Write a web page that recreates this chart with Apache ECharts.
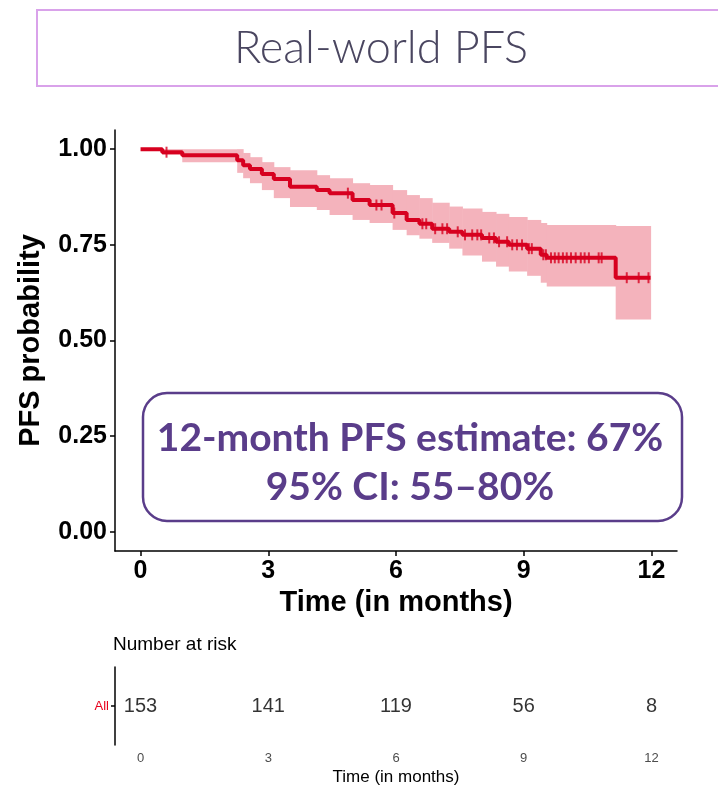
<!DOCTYPE html>
<html>
<head>
<meta charset="utf-8">
<script src="https://cdn.jsdelivr.net/npm/echarts@6/dist/echarts.min.js"></script>
<style>
  html, body { margin: 0; padding: 0; background: #fff; }
  #main { width: 718px; height: 788px; }
</style>
</head>
<body>
<div id="main"></div>
<script>
// KM step curve (time in months, survival)
const stepTimes = [0, 0.51, 0.98, 2.27, 2.41, 2.57, 2.85, 3.13, 3.51, 4.14, 4.44, 4.98, 5.38, 5.92, 6.25, 6.55, 6.85, 7.25, 7.56, 8.02, 8.35, 8.65, 9.08, 9.40, 9.54, 11.16, 11.98];
const survival = [1.000, 0.992, 0.984, 0.971, 0.958, 0.948, 0.935, 0.922, 0.902, 0.893, 0.885, 0.867, 0.854, 0.833, 0.815, 0.805, 0.792, 0.784, 0.776, 0.768, 0.758, 0.750, 0.740, 0.724, 0.716, 0.664, 0.664];
const upperCI = [1.000, 1.000, 1.000, 1.000, 0.990, 0.979, 0.966, 0.953, 0.945, 0.932, 0.924, 0.911, 0.906, 0.893, 0.880, 0.872, 0.860, 0.850, 0.845, 0.836, 0.831, 0.823, 0.815, 0.807, 0.802, 0.799, 0.799];
const lowerCI = [1.000, 0.985, 0.966, 0.938, 0.924, 0.911, 0.893, 0.872, 0.849, 0.841, 0.828, 0.815, 0.807, 0.789, 0.775, 0.766, 0.755, 0.740, 0.722, 0.706, 0.693, 0.680, 0.669, 0.651, 0.641, 0.555, 0.555];

// censored observations (+ marks)
const censorTimes = [0.61, 4.87, 5.54, 5.66, 5.96, 6.62, 6.71, 6.92, 7.09, 7.20, 7.45, 7.62, 7.79, 7.91, 8.00, 8.19, 8.30, 8.42, 8.61, 8.73, 8.84, 8.96, 9.12, 9.19, 9.46, 9.52, 9.64, 9.73, 9.82, 9.92, 10.01, 10.11, 10.22, 10.34, 10.43, 10.53, 10.76, 10.83, 11.42, 11.70, 11.93];

// number at risk table
const riskTimes = [0, 3, 6, 9, 12];
const riskCounts = [153, 141, 119, 56, 8];

const xTicks = [0, 3, 6, 9, 12];
const yTicks = [0, 0.25, 0.5, 0.75, 1];

const RED = "#d7001f";
const PINK = "#f4b3bc";
const PURPLE = "#5a3d8a";

function survAt(t) {
  let s = survival[0];
  for (let i = 0; i < stepTimes.length; i++) {
    if (stepTimes[i] <= t) s = survival[i];
  }
  return s;
}

// band segments: [t_start, t_end, lower, upper]
const bandData = [];
for (let i = 0; i < stepTimes.length - 1; i++) {
  bandData.push([stepTimes[i], stepTimes[i + 1], lowerCI[i], upperCI[i]]);
}

const myChart = echarts.init(document.getElementById("main"));

const axisLineStyle = { color: "#000", width: 1.5 };

let option = {
  animation: false,
  textStyle: { fontFamily: "Liberation Sans" },
  grid: [
    { left: 115, top: 130, width: 562, height: 421 },
    { left: 115, top: 667, width: 562, height: 78 },
  ],
  xAxis: [
    {
      gridIndex: 0,
      type: "value",
      min: -0.6,
      max: 12.6,
      splitLine: { show: false },
      axisLine: { onZero: false, lineStyle: axisLineStyle },
      axisTick: { customValues: xTicks, length: 5, lineStyle: axisLineStyle },
      axisLabel: {
        customValues: xTicks,
        color: "#000",
        fontWeight: "bold",
        fontSize: 25,
        margin: 8,
      },
      name: "Time (in months)",
      nameLocation: "middle",
      nameGap: 36,
      nameTextStyle: { color: "#000", fontWeight: "bold", fontSize: 29, verticalAlign: "top" },
    },
    {
      gridIndex: 1,
      type: "value",
      min: -0.6,
      max: 12.6,
      splitLine: { show: false },
      axisLine: { onZero: false, lineStyle: axisLineStyle },
      axisTick: { customValues: xTicks, length: 4, lineStyle: axisLineStyle },
      axisLabel: {
        customValues: xTicks,
        color: "#4d4d4d",
        fontSize: 13,
        margin: 7,
      },
      name: "Time (in months)",
      nameLocation: "middle",
      nameGap: 24,
      nameTextStyle: { color: "#000", fontSize: 17, verticalAlign: "top" },
    },
  ],
  yAxis: [
    {
      gridIndex: 0,
      type: "value",
      min: -0.05,
      max: 1.05,
      splitLine: { show: false },
      axisLine: { show: true, onZero: false, lineStyle: axisLineStyle },
      axisTick: { show: true, customValues: yTicks, length: 5, lineStyle: axisLineStyle },
      axisLabel: {
        customValues: yTicks,
        color: "#000",
        fontWeight: "bold",
        fontSize: 25,
        margin: 8,
        formatter: (v) => v.toFixed(2),
      },
      name: "PFS probability",
      nameLocation: "middle",
      nameGap: 70,
      nameTextStyle: { color: "#000", fontWeight: "bold", fontSize: 29 },
    },
    {
      gridIndex: 1,
      type: "category",
      data: ["All"],
      axisLine: { show: true, onZero: false, lineStyle: axisLineStyle },
      axisTick: { show: true, alignWithLabel: true, length: 4, lineStyle: axisLineStyle },
      axisLabel: { color: "#e8001c", fontSize: 13, margin: 6 },
    },
  ],
  series: [
    {
      // 95% confidence band
      type: "custom",
      xAxisIndex: 0,
      yAxisIndex: 0,
      renderItem: function (params, api) {
        const p0 = api.coord([api.value(0), api.value(3)]);
        const p1 = api.coord([api.value(1), api.value(2)]);
        return {
          type: "rect",
          shape: { x: p0[0], y: p0[1], width: p1[0] - p0[0] + 0.5, height: p1[1] - p0[1] },
          style: { fill: PINK },
        };
      },
      encode: { x: [0, 1], y: [2, 3] },
      data: bandData,
      z: 1,
    },
    {
      type: "line",
      xAxisIndex: 0,
      yAxisIndex: 0,
      step: "end",
      symbol: "none",
      lineStyle: { color: RED, width: 4 },
      data: stepTimes.map((t, i) => [t, survival[i]]),
      z: 3,
    },
    {
      type: "scatter",
      xAxisIndex: 0,
      yAxisIndex: 0,
      symbol: "rect",
      symbolSize: [2, 11],
      itemStyle: { color: RED },
      data: censorTimes.map((t) => [t, survAt(t)]),
      z: 4,
    },
    {
      // number at risk
      type: "scatter",
      xAxisIndex: 1,
      yAxisIndex: 1,
      symbolSize: 1,
      itemStyle: { color: "transparent" },
      label: {
        show: true,
        position: "inside",
        color: "#000",
        fontSize: 20,
        formatter: (p) => p.value[2],
      },
      data: riskTimes.map((t, i) => [t, 0, riskCounts[i]]),
    },
  ],
  graphic: [
    {
      type: "rect",
      shape: { x: 37, y: 10, width: 700, height: 76 },
      style: { fill: "none", stroke: "#d9a2ea", lineWidth: 2 },
    },
    {
      type: "text",
      x: 381,
      y: 48,
      style: {
        text: "Real-world PFS",
        fill: "#4a4660",
        font: "300 45px Lato",
        align: "center",
        verticalAlign: "middle",
      },
    },
    {
      type: "rect",
      shape: { x: 143, y: 393, width: 539, height: 128, r: 24 },
      style: { fill: "#fff", stroke: PURPLE, lineWidth: 2.5 },
      z: 10,
    },
    {
      type: "text",
      x: 410,
      y: 438,
      z: 11,
      style: {
        text: "12-month PFS estimate: 67%",
        fill: PURPLE,
        font: "bold 39px Lato",
        align: "center",
        verticalAlign: "middle",
      },
    },
    {
      type: "text",
      x: 410,
      y: 487,
      z: 11,
      style: {
        text: "95% CI: 55\u201380%",
        fill: PURPLE,
        font: "bold 39px Lato",
        align: "center",
        verticalAlign: "middle",
      },
    },
    {
      type: "text",
      x: 113,
      y: 645,
      style: {
        text: "Number at risk",
        fill: "#000",
        font: "19px 'Liberation Sans'",
        verticalAlign: "middle",
      },
    },
  ],
};

option && myChart.setOption(option);

window.addEventListener("resize", function () {
  myChart.resize();
});
</script>
</body>
</html>
